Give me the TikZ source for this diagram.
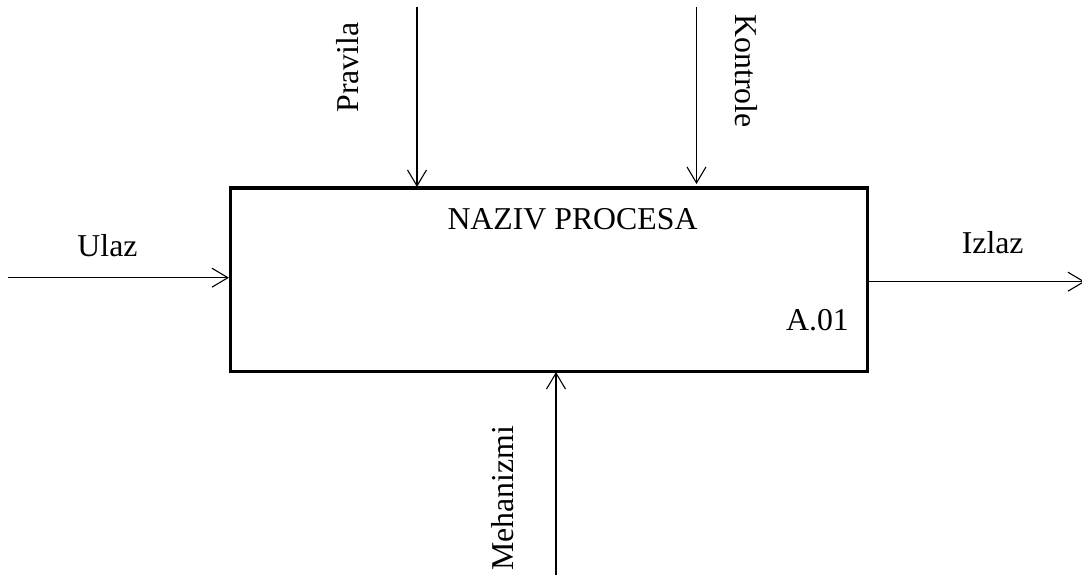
\documentclass[tikz,border=0pt]{standalone}
\usepackage{fontspec}
\setmainfont{Liberation Serif}
\usetikzlibrary{arrows.meta}
\begin{document}
\begin{tikzpicture}[x=1pt,y=-1pt,
  lbl/.style={inner sep=0pt,anchor=base,font=\fontsize{31.8}{38}\selectfont},
  conn/.style={line width=1.1pt,-{Straight Barb[length=16pt,width=19pt,line width=1.1pt]}},
  procbox/.style={draw,line width=3pt,minimum width=637pt,minimum height=183pt,inner sep=0pt}]
\useasboundingbox (0,0) rectangle (1082,575);
\node[procbox] (proc) at (549,279.5) {};
\node[lbl] (name) at (572.5,229) {NAZIV PROCESA};
\node[lbl] (code) at (817.5,330) {A.01};
% endpoints
\coordinate (inS) at (8,277.7);
\coordinate (inE) at (229,277.7);
\coordinate (outS) at (869,281.7);
\coordinate (outE) at (1085,281.7);
\coordinate (prS) at (417,7);
\coordinate (prE) at (417,187);
\coordinate (koS) at (696.5,7);
\coordinate (koE) at (696.5,184);
\coordinate (meS) at (556,575);
\coordinate (meE) at (556,372);
\draw[conn] (inS) -- (inE);
\draw[conn] (outS) -- (outE);
\draw[conn] (prS) -- (prE);
\draw[conn] (koS) -- (koE);
\draw[conn] (meS) -- (meE);
\node[lbl] (ulaz) at (107.5,256) {Ulaz};
\node[lbl] (izlaz) at (992.7,253) {Izlaz};
\node[lbl,rotate=90] (pravila) at (358,67.5) {Pravila};
\node[lbl,rotate=-90] (kontrole) at (735,71) {Kontrole};
\node[lbl,rotate=90] (meh) at (513,498.5) {Mehanizmi};
\end{tikzpicture}
\end{document}
